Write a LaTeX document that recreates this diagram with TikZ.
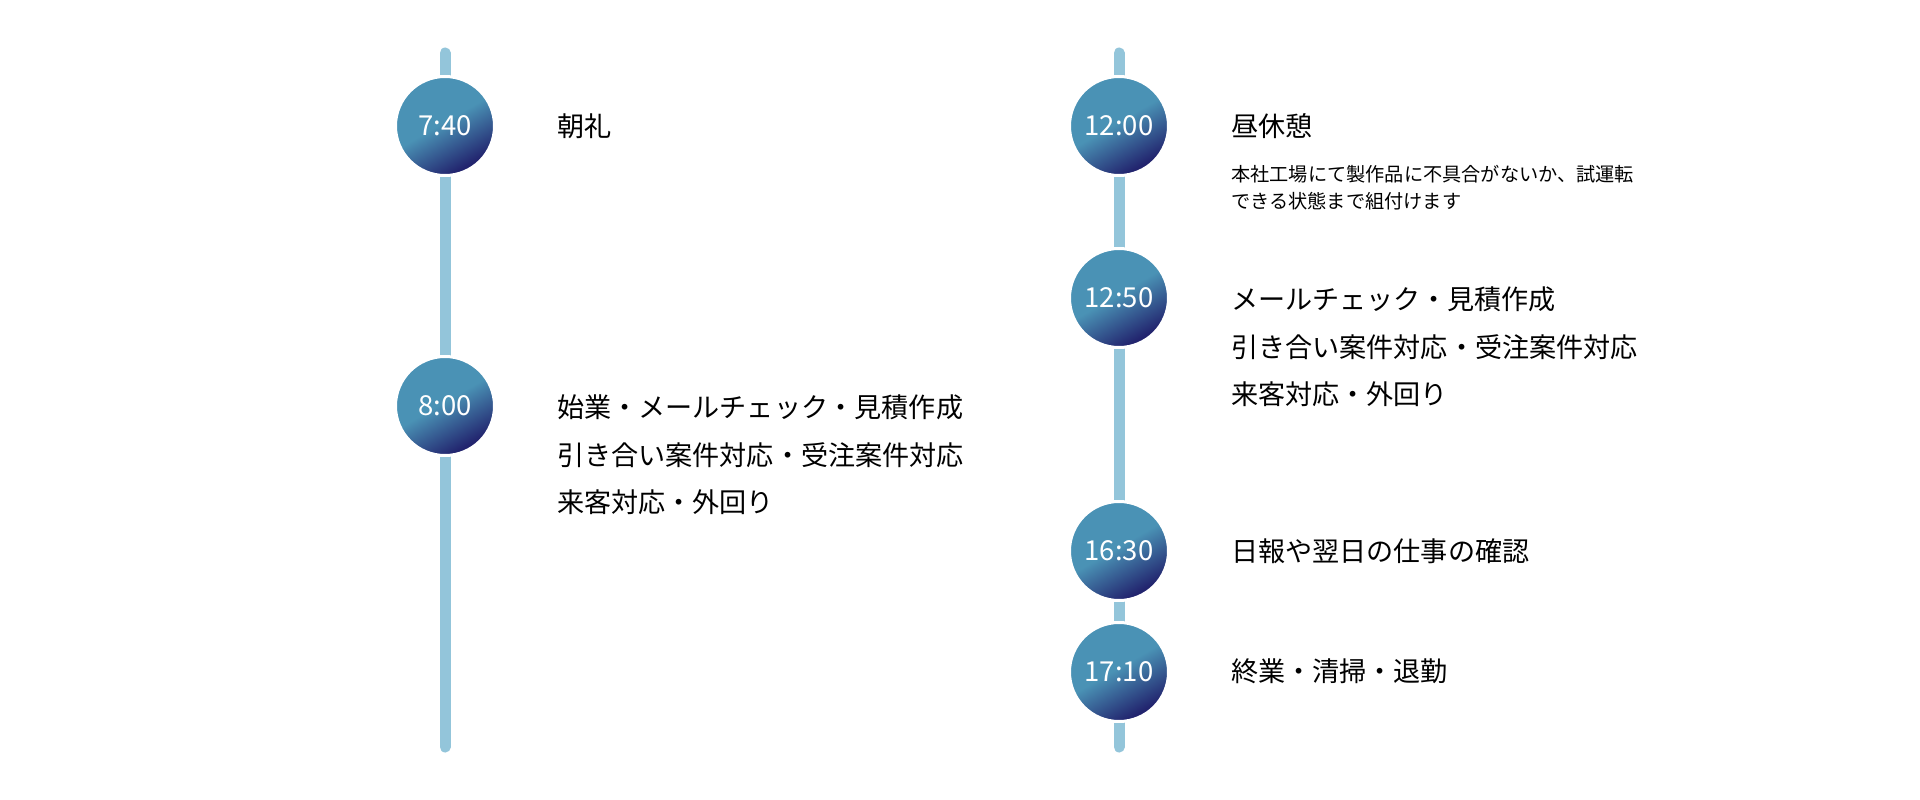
\documentclass[tikz,border=0pt]{standalone}
\usepackage{fontspec}
\newfontfamily\jp{Noto Sans CJK JP}
\usetikzlibrary{backgrounds}
\definecolor{lineblue}{HTML}{93C5DA}
\definecolor{dotlt}{HTML}{4A92B5}
\definecolor{dotdk}{HTML}{22246E}
\pgfdeclareverticalshading{dotshade}{100bp}{color(0bp)=(dotdk); color(27bp)=(dotdk); color(52bp)=(dotlt); color(100bp)=(dotlt)}
\tikzset{
  dot/.style={circle, minimum size=99pt, inner sep=0pt, draw=white, line width=3pt,
    shade, shading=dotshade, shading angle=30, text=white,
    font=\jp\fontsize{27.5}{27.5}\selectfont},
  lbl/.style={anchor=base west, inner sep=0pt, text=black, font=\jp\fontsize{27.1}{30}\selectfont},
  sml/.style={anchor=base west, inner sep=0pt, text=black, font=\jp\fontsize{19.2}{22}\selectfont},
  track/.style={draw=lineblue, line width=11pt, line cap=round}
}
\begin{document}
\begin{tikzpicture}[x=1pt, y=-1pt]
\useasboundingbox (0,0) rectangle (1920,800);
% left column
\coordinate (Ltop) at (445,53);
\coordinate (Lbot) at (445,747);
\node[dot] (t740) at (445,126) {7:40};
\node[dot] (t800) at (445,406) {8:00};
% right column
\coordinate (Rtop) at (1119,53);
\coordinate (Rbot) at (1119,747);
\node[dot] (t1200) at (1119,126) {12:00};
\node[dot] (t1250) at (1119,298) {12:50};
\node[dot] (t1630) at (1119,551) {16:30};
\node[dot] (t1710) at (1119,672) {17:10};
\begin{scope}[on background layer]
\draw[track] (Ltop) -- (t740);
\draw[track] (t740) -- (t800);
\draw[track] (t800) -- (Lbot);
\draw[track] (Rtop) -- (t1200);
\draw[track] (t1200) -- (t1250);
\draw[track] (t1250) -- (t1630);
\draw[track] (t1630) -- (t1710);
\draw[track] (t1710) -- (Rbot);
\end{scope}
% texts
\node[lbl] (a1) at (557,136.5) {朝礼};
\node[lbl] (b1) at (557,417) {始業・メールチェック・見積作成};
\node[lbl] (b2) at (557,465) {引き合い案件対応・受注案件対応};
\node[lbl] (b3) at (557,512) {来客対応・外回り};
\node[lbl] (c1) at (1231,136.5) {昼休憩};
\node[sml] (c2) at (1231,181) {本社工場にて製作品に不具合がないか、試運転};
\node[sml] (c3) at (1231,208) {できる状態まで組付けます};
\node[lbl] (d1) at (1231,309.5) {メールチェック・見積作成};
\node[lbl] (d2) at (1231,357) {引き合い案件対応・受注案件対応};
\node[lbl] (d3) at (1231,404) {来客対応・外回り};
\node[lbl] (e1) at (1231,561.5) {日報や翌日の仕事の確認};
\node[lbl] (f1) at (1231,681.5) {終業・清掃・退勤};
\end{tikzpicture}
\end{document}
